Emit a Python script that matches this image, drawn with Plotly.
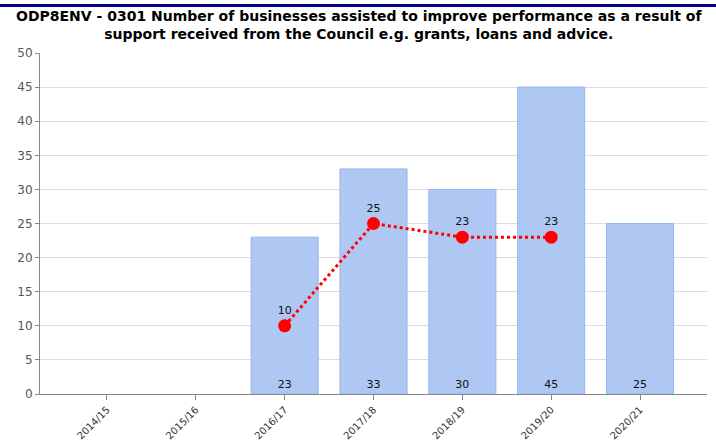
import plotly.graph_objects as go

categories = ["2014/15", "2015/16", "2016/17", "2017/18", "2018/19", "2019/20", "2020/21"]
actual = [None, None, 23, 33, 30, 45, 25]
target = [None, None, 10, 25, 23, 23, None]
y_ticks = [0, 5, 10, 15, 20, 25, 30, 35, 40, 45, 50]

title_text = ("ODP8ENV - 0301 Number of businesses assisted to improve performance as a result of<br>"
              "support received from the Council e.g. grants, loans and advice.")

fig = go.Figure()
fig.add_trace(go.Bar(
    x=categories, y=actual, width=0.755,
    marker=dict(color="rgba(174,199,243,1)", line=dict(color="rgb(150,182,238)", width=1)),
    text=[("" if v is None else str(v)) for v in actual],
    textposition="inside", insidetextanchor="start",
    textfont=dict(family="DejaVu Sans", size=11, color="#111"),
    hoverinfo="x+y", showlegend=False,
))
fig.add_trace(go.Scatter(
    x=categories, y=target, mode="lines+markers+text",
    line=dict(color="red", width=3, dash="dot"),
    marker=dict(color="red", size=13),
    text=[("" if v is None else str(v)) for v in target],
    textposition="top center",
    textfont=dict(family="DejaVu Sans", size=11, color="#111"),
    connectgaps=False, showlegend=False,
))

fig.update_layout(
    width=716, height=447,
    margin=dict(l=40, r=9, t=53, b=53, autoexpand=False),
    paper_bgcolor="white", plot_bgcolor="white",
    xaxis=dict(range=[-0.754, 6.754], tickangle=-45, showline=True, linecolor="#888", linewidth=1,
               ticks="outside", ticklen=5, tickcolor="#888", automargin=False,
               tickfont=dict(family="DejaVu Sans", size=10, color="#333"), showgrid=False),
    yaxis=dict(range=[0, 50], tickvals=y_ticks, showline=True, linecolor="#888", linewidth=1,
               ticks="outside", ticklen=4, tickcolor="#888", automargin=False,
               tickfont=dict(family="DejaVu Sans", size=12, color="#555"),
               gridcolor="#dcdcdc", gridwidth=1, zeroline=False),
    annotations=[dict(text=title_text, xref="paper", yref="paper", x=0.478, y=1.082,
                      xanchor="center", yanchor="middle", showarrow=False, align="center",
                      font=dict(family="DejaVu Sans", size=14, color="#000", weight="bold"))],
    shapes=[dict(type="line", xref="paper", yref="paper", x0=-0.06, x1=1.0135, y0=1.139, y1=1.139,
                 line=dict(color="#00008B", width=3))],
)
fig.write_html("out.html", config={"displayModeBar": False},
               post_script="document.body.style.margin='0';")
